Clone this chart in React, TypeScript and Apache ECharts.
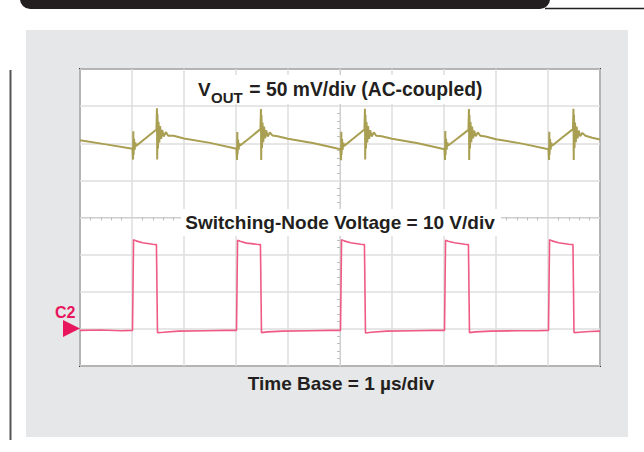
import React, { useEffect, useRef } from "react";
import * as echarts from "echarts";

// Time in µs relative to the screen centre (1 µs/div), amplitude in divisions
const voutTrace: [number, number][] = [
  [-5.0, 2.08], [-4.5, 1.97], [-3.99, 1.85],
  [-3.98, 1.56], [-3.975, 2.32], [-3.97, 1.68], [-3.96, 2.12], [-3.95, 1.82], [-3.935, 2.02], [-3.92, 1.93],
  [-3.75, 2.12], [-3.53, 2.37],
  [-3.52, 2.94], [-3.515, 1.56], [-3.51, 2.78], [-3.5, 1.86], [-3.49, 2.58], [-3.475, 2.02], [-3.46, 2.46],
  [-3.44, 2.12], [-3.42, 2.36], [-3.39, 2.18], [-3.35, 2.3], [-3.3, 2.2], [-3.2, 2.2], [-3.0, 2.13], [-2.5, 2.01], [-1.99, 1.85],
  [-1.98, 1.55], [-1.975, 2.3], [-1.97, 1.7], [-1.96, 2.1], [-1.95, 1.83], [-1.935, 2.0], [-1.92, 1.94],
  [-1.75, 2.13], [-1.53, 2.38],
  [-1.52, 2.92], [-1.515, 1.55], [-1.51, 2.76], [-1.5, 1.87], [-1.49, 2.56], [-1.475, 2.03], [-1.46, 2.45],
  [-1.44, 2.13], [-1.42, 2.35], [-1.39, 2.18], [-1.35, 2.29], [-1.3, 2.21], [-1.2, 2.19], [-1.0, 2.12], [-0.5, 2.0], [0.01, 1.84],
  [0.02, 1.54], [0.025, 2.31], [0.03, 1.69], [0.04, 2.11], [0.05, 1.82], [0.065, 2.01], [0.08, 1.93],
  [0.25, 2.12], [0.47, 2.37],
  [0.48, 2.93], [0.485, 1.56], [0.49, 2.77], [0.5, 1.86], [0.51, 2.57], [0.525, 2.02], [0.54, 2.46],
  [0.56, 2.12], [0.58, 2.35], [0.61, 2.18], [0.65, 2.29], [0.7, 2.2], [0.8, 2.19], [1.0, 2.12], [1.5, 2.0], [2.01, 1.84],
  [2.02, 1.55], [2.025, 2.33], [2.03, 1.68], [2.04, 2.12], [2.05, 1.83], [2.065, 2.02], [2.08, 1.94],
  [2.25, 2.12], [2.47, 2.36],
  [2.48, 2.92], [2.485, 1.55], [2.49, 2.76], [2.5, 1.86], [2.51, 2.57], [2.525, 2.03], [2.54, 2.45],
  [2.56, 2.13], [2.58, 2.34], [2.61, 2.19], [2.65, 2.29], [2.7, 2.2], [2.8, 2.18], [3.0, 2.11], [3.5, 1.99], [4.01, 1.84],
  [4.02, 1.55], [4.025, 2.31], [4.03, 1.69], [4.04, 2.11], [4.05, 1.83], [4.065, 2.01], [4.08, 1.93],
  [4.25, 2.13], [4.48, 2.38],
  [4.49, 2.93], [4.495, 1.55], [4.5, 2.77], [4.51, 1.87], [4.52, 2.56], [4.535, 2.03], [4.55, 2.45],
  [4.57, 2.13], [4.59, 2.34], [4.62, 2.19], [4.66, 2.28], [4.72, 2.2], [4.85, 2.15], [5.0, 2.1],
];

const switchTrace: [number, number][] = [
  [-5.0, -3.04], [-4.6, -3.03], [-4.2, -3.05], [-3.99, -3.04],
  [-3.97, -0.6], [-3.92, -0.63], [-3.8, -0.68], [-3.6, -0.72], [-3.53, -0.73],
  [-3.51, -3.1], [-3.4, -3.09], [-3.1, -3.06], [-2.6, -3.05], [-2.2, -3.04], [-1.99, -3.04],
  [-1.97, -0.61], [-1.92, -0.64], [-1.8, -0.69], [-1.6, -0.72], [-1.53, -0.73],
  [-1.51, -3.1], [-1.4, -3.08], [-1.1, -3.06], [-0.6, -3.05], [-0.2, -3.04], [0.01, -3.04],
  [0.03, -0.6], [0.08, -0.63], [0.2, -0.68], [0.4, -0.72], [0.47, -0.73],
  [0.49, -3.11], [0.6, -3.09], [0.9, -3.06], [1.4, -3.05], [1.8, -3.04], [2.01, -3.04],
  [2.03, -0.61], [2.08, -0.64], [2.2, -0.68], [2.4, -0.72], [2.47, -0.73],
  [2.49, -3.1], [2.6, -3.08], [2.9, -3.06], [3.4, -3.05], [3.8, -3.05], [4.01, -3.04],
  [4.03, -0.6], [4.08, -0.63], [4.2, -0.68], [4.4, -0.72], [4.48, -0.73],
  [4.5, -3.1], [4.6, -3.09], [4.8, -3.07], [5.0, -3.06],
];

const voutLabelMain = "V";
const voutLabelSub = "OUT";
const voutLabelRest = " = 50 mV/div (AC-coupled)";
const switchLabel = "Switching-Node Voltage = 10 V/div";
const timeLabel = "Time Base = 1 µs/div";
const channelLabel = "C2";

const FONT = "'Liberation Sans', Arial, Helvetica, sans-serif";
const PINK = "#e8175d";

export default function App() {
  const ref = useRef<HTMLDivElement>(null);

  useEffect(() => {
    if (!ref.current) return;
    const chart = echarts.init(ref.current, undefined, { renderer: "svg" });
    const centreAxis = {
      axisLine: { onZero: true, lineStyle: { color: "#cfcfcf", width: 1 } },
      axisTick: { show: false },
      minorTick: { show: true, splitNumber: 5, length: 3, lineStyle: { color: "#bdbdbd" } },
      axisLabel: { show: false },
      splitLine: { show: true, lineStyle: { color: "#dedede", width: 1.5 } },
      minorSplitLine: { show: false },
    };
    chart.setOption({
      animation: false,
      backgroundColor: "#ffffff",
      grid: {
        left: 80,
        top: 69,
        width: 520,
        height: 297,
        show: true,
        backgroundColor: "#ffffff",
        borderColor: "#3a3a3a",
        borderWidth: 2,
      },
      xAxis: { type: "value", min: -5, max: 5, interval: 1, ...centreAxis },
      yAxis: { type: "value", min: -4, max: 4, interval: 1, ...centreAxis },
      series: [
        {
          type: "line",
          data: voutTrace,
          symbol: "none",
          lineStyle: { color: "#a99f52", width: 2 },
          z: 5,
        },
        {
          type: "line",
          data: switchTrace,
          symbol: "none",
          lineStyle: { color: "#ef5a83", width: 1.6 },
          z: 5,
        },
      ],
      graphic: [
        { type: "rect", z: -10, silent: true, shape: { x: 26, y: 30, width: 602, height: 407 }, style: { fill: "#e6e7e8" } },
        { type: "rect", z: 10, shape: { x: 20, y: -12, width: 530, height: 21, r: 10 }, style: { fill: "#231f20" } },
        { type: "line", z: 10, shape: { x1: 545, y1: 8.5, x2: 644, y2: 8.5 }, style: { stroke: "#231f20", lineWidth: 1.5 } },
        { type: "line", z: 10, shape: { x1: 10.5, y1: 70, x2: 10.5, y2: 440 }, style: { stroke: "#555555", lineWidth: 2 } },
        { type: "rect", z: 50, shape: { x: 191, y: 75, width: 298, height: 29 }, style: { fill: "#ffffff" } },
        { type: "text", z: 51, x: 198, y: 89, style: { text: voutLabelMain, font: `bold 19px ${FONT}`, fill: "#231f20", align: "left", verticalAlign: "middle" } },
        { type: "text", z: 51, x: 211, y: 97, style: { text: voutLabelSub, font: `bold 15px ${FONT}`, fill: "#231f20", align: "left", verticalAlign: "middle" } },
        { type: "text", z: 51, x: 244, y: 89, style: { text: voutLabelRest, font: `bold 19.3px ${FONT}`, fill: "#231f20", align: "left", verticalAlign: "middle" } },
        { type: "rect", z: 50, shape: { x: 181, y: 209, width: 320, height: 27 }, style: { fill: "#ffffff" } },
        { type: "text", z: 51, x: 340, y: 222, style: { text: switchLabel, font: `bold 19px ${FONT}`, fill: "#231f20", align: "center", verticalAlign: "middle" } },
        { type: "text", z: 51, x: 341, y: 383, style: { text: timeLabel, font: `bold 19px ${FONT}`, fill: "#231f20", align: "center", verticalAlign: "middle" } },
        { type: "text", z: 51, x: 55, y: 312.5, style: { text: channelLabel, font: `bold 16px ${FONT}`, fill: PINK, align: "left", verticalAlign: "middle" } },
        { type: "polygon", z: 51, shape: { points: [[63, 320], [63, 337], [80, 328.5]] }, style: { fill: PINK } },
      ],
    });
    return () => chart.dispose();
  }, []);

  return <div ref={ref} style={{ position: "fixed", left: 0, top: 0, width: 644, height: 452 }} />;
}
